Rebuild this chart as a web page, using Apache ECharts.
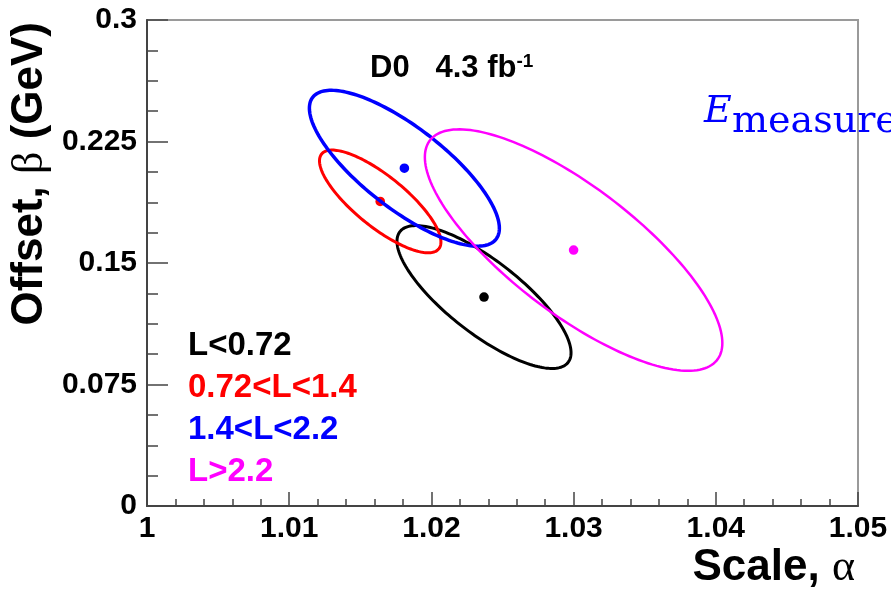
<!DOCTYPE html>
<html>
<head>
<meta charset="utf-8">
<script src="https://cdn.jsdelivr.net/npm/echarts@6/dist/echarts.min.js"></script>
<style>
html,body{margin:0;padding:0;background:#fff;}
#chart{width:891px;height:590px;}
</style>
</head>
<body>
<div id="chart"></div>
<script>
// ---- data ----
const categories = ['L<0.72', '0.72<L<1.4', '1.4<L<2.2', 'L>2.2'];
const colors = ['#000000', '#ff0000', '#0000ff', '#ff00ff'];
// best-fit point (centre of each contour)
const scaleAlpha = [1.0237, 1.0164, 1.0181, 1.0300];
const offsetBeta = [0.1290, 0.1880, 0.2085, 0.1580];
// half-extent of each contour along each axis, and its correlation
const spreadAlpha = [0.00612, 0.00427, 0.00668, 0.01046];
const spreadBeta = [0.0441, 0.0317, 0.0481, 0.0745];
const correlation = [-0.78, -0.79, -0.77, -0.77];
const lineWidths = [3, 3, 3.5, 2.5];
// axis ticks
const xTickValues = [1, 1.01, 1.02, 1.03, 1.04, 1.05];
const xTickLabels = ['1', '1.01', '1.02', '1.03', '1.04', '1.05'];
const yTickValues = [0, 0.075, 0.15, 0.225, 0.3];
const yTickLabels = ['0', '0.075', '0.15', '0.225', '0.3'];

function tickLabel(values, labels) {
  return function (v) {
    let best = 0;
    for (let i = 1; i < values.length; i++) {
      if (Math.abs(values[i] - v) < Math.abs(values[best] - v)) best = i;
    }
    return labels[best];
  };
}

const chart = echarts.init(document.getElementById('chart'), null, {renderer: 'canvas'});

function makeSeries(i) {
  return {
    name: categories[i],
    type: 'custom',
    coordinateSystem: 'cartesian2d',
    color: colors[i],
    encode: {x: 0, y: 1},
    data: [[scaleAlpha[i], offsetBeta[i], spreadAlpha[i], spreadBeta[i], correlation[i]]],
    renderItem: function (params, api) {
      const cx = api.value(0), cy = api.value(1);
      const sx = api.value(2), sy = api.value(3), r = api.value(4);
      const q = Math.sqrt(1 - r * r);
      const pts = [];
      const N = 180;
      for (let k = 0; k < N; k++) {
        const t = 2 * Math.PI * k / N;
        pts.push(api.coord([cx + sx * Math.cos(t), cy + sy * (r * Math.cos(t) + q * Math.sin(t))]));
      }
      const c = api.coord([cx, cy]);
      return {
        type: 'group',
        children: [
          {type: 'polygon', shape: {points: pts}, style: {fill: 'none', stroke: colors[i], lineWidth: lineWidths[i]}},
          {type: 'circle', shape: {cx: c[0], cy: c[1], r: 4.8}, style: {fill: colors[i]}}
        ]
      };
    }
  };
}

const labelFont = {color: '#000', fontFamily: 'Liberation Sans', fontWeight: 'bold', fontSize: 30};

const option = {
  animation: false,
  backgroundColor: '#ffffff',
  grid: {
    left: 147, right: 33, top: 20, bottom: 84,
    show: true, borderColor: '#9a9a9a', borderWidth: 2, backgroundColor: 'transparent',
    containLabel: false, outerBoundsMode: 'none'
  },
  legend: {
    orient: 'vertical',
    left: 183, top: 329,
    padding: 0,
    itemWidth: 0, itemHeight: 0,
    itemGap: 9,
    selectedMode: false,
    textStyle: {fontFamily: 'Liberation Sans', fontWeight: 'bold', fontSize: 33},
    data: categories.map((c, i) => ({name: c, textStyle: {color: colors[i]}}))
  },
  xAxis: {
    type: 'value', min: 1, max: 1.05, interval: 0.01,
    axisLine: {show: true, lineStyle: {color: '#444', width: 2}},
    axisTick: {show: true, inside: true, length: 14, lineStyle: {color: '#444', width: 1.5}},
    minorTick: {show: true, splitNumber: 5, length: 7, lineStyle: {color: '#444', width: 1.5}},
    splitLine: {show: false},
    axisLabel: Object.assign({margin: 8, formatter: tickLabel(xTickValues, xTickLabels), showMinLabel: true, showMaxLabel: true}, labelFont)
  },
  yAxis: {
    type: 'value', min: 0, max: 0.3, interval: 0.075,
    axisLine: {show: true, lineStyle: {color: '#444', width: 2}},
    axisTick: {show: true, inside: true, length: 21, lineStyle: {color: '#444', width: 1.5}},
    minorTick: {show: true, splitNumber: 4, length: 11, lineStyle: {color: '#444', width: 1.5}},
    splitLine: {show: false},
    axisLabel: Object.assign({margin: 10, formatter: tickLabel(yTickValues, yTickLabels), showMinLabel: true, showMaxLabel: true}, labelFont)
  },
  graphic: [
    {
      type: 'text', x: 30, y: 22, rotation: Math.PI / 2, z: 10,
      style: {
        text: '{b|Offset, }{g|β}{b| (GeV)}',
        align: 'right', verticalAlign: 'middle',
        rich: {
          b: {fontFamily: 'Liberation Sans', fontWeight: 'bold', fontSize: 44, fill: '#000'},
          g: {fontFamily: 'Liberation Serif', fontWeight: 'normal', fontSize: 44, fill: '#000'}
        }
      }
    },
    {
      type: 'text', x: 855, y: 568, z: 10,
      style: {
        text: '{b|Scale, }{g|α}',
        align: 'right', verticalAlign: 'middle',
        rich: {
          b: {fontFamily: 'Liberation Sans', fontWeight: 'bold', fontSize: 44, fill: '#000'},
          g: {fontFamily: 'Liberation Serif', fontWeight: 'normal', fontSize: 44, fill: '#000'}
        }
      }
    },
    {
      type: 'text', x: 370, y: 68, z: 10,
      style: {
        text: '{b|D0   4.3 fb}{s|-1}',
        align: 'left', verticalAlign: 'middle',
        rich: {
          b: {fontFamily: 'Liberation Sans', fontWeight: 'bold', fontSize: 31, fill: '#000', verticalAlign: 'bottom'},
          s: {fontFamily: 'Liberation Sans', fontWeight: 'bold', fontSize: 19, fill: '#000', verticalAlign: 'top'}
        }
      }
    },
    {
      type: 'text', x: 704, y: 112, z: 10,
      style: {text: 'E', fontFamily: 'DejaVu Serif', fontStyle: 'italic', fontSize: 38, fill: '#0000ff', align: 'left', verticalAlign: 'middle'}
    },
    {
      type: 'text', x: 732, y: 122, z: 10,
      style: {text: 'measure', fontFamily: 'DejaVu Serif', fontSize: 38, fill: '#0000ff', align: 'left', verticalAlign: 'middle'}
    }
  ],
  series: categories.map((c, i) => makeSeries(i))
};
chart.setOption(option);
</script>
</body>
</html>
